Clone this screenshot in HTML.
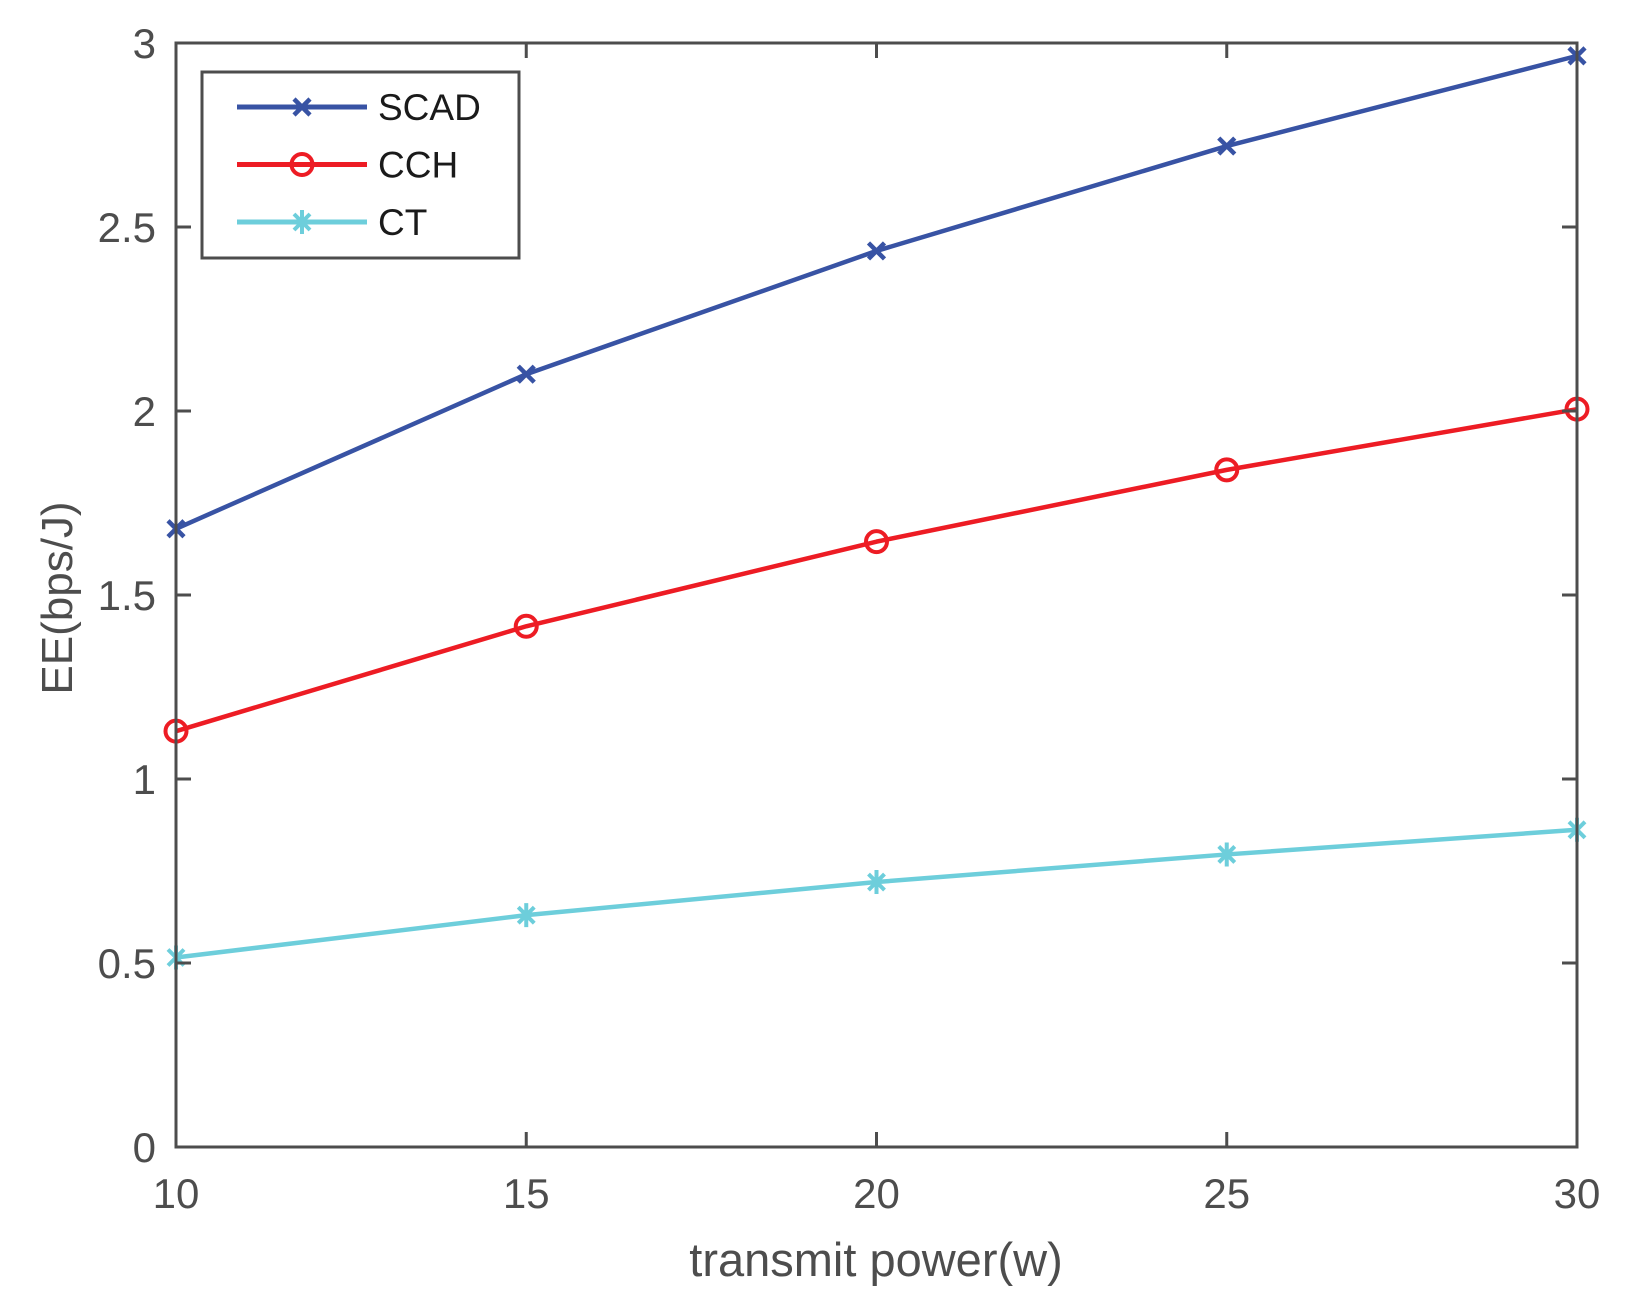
<!DOCTYPE html>
<html><head><meta charset="utf-8"><style>
html,body{margin:0;padding:0;background:#fff;}
svg{display:block;font-family:"Liberation Sans",Arial,sans-serif;}
</style></head><body>
<svg id="chart" width="1629" height="1310" viewBox="0 0 1629 1310">
<rect width="1629" height="1310" fill="#fff"/>
<g id="marks"></g>
<g id="axes"></g>
</svg>
<script>
const categories = [10, 15, 20, 25, 30];
const scadValues = [1.68, 2.10, 2.435, 2.72, 2.965];
const cchValues = [1.13, 1.415, 1.645, 1.84, 2.005];
const ctValues = [0.515, 0.63, 0.72, 0.795, 0.862];
const xTicks = [10, 15, 20, 25, 30];
const yTicks = [0, 0.5, 1, 1.5, 2, 2.5, 3];
const yTickLabels = ["0", "0.5", "1", "1.5", "2", "2.5", "3"];
const seriesNames = ["SCAD", "CCH", "CT"];

const L = 176, R = 1577, T = 43, B = 1147;
const xS = v => L + (v - 10) / 20 * (R - L);
const yS = v => B - v / 3 * (B - T);
const NS = "http://www.w3.org/2000/svg";
const marks = document.getElementById('marks');
const axes = document.getElementById('axes');
function mk(tag, attrs, parent) {
  const e = document.createElementNS(NS, tag);
  for (const k in attrs) e.setAttribute(k, attrs[k]);
  parent.appendChild(e);
  return e;
}
const colors = ["#3853a4", "#ed1c24", "#6dcedb"];
const AX = "#4d4d4d";

function marker(type, x, y, color, parent) {
  const g = mk('g', {}, parent);
  if (type === 0) {
    mk('path', {d: `M${x-8},${y-8}L${x+8},${y+8}M${x-8},${y+8}L${x+8},${y-8}`, stroke: color, 'stroke-width': 4.5, fill: 'none'}, g);
  } else if (type === 1) {
    mk('circle', {cx: x, cy: y, r: 10.5, stroke: color, 'stroke-width': 4, fill: 'none'}, g);
  } else {
    mk('path', {d: `M${x-8},${y-8}L${x+8},${y+8}M${x-8},${y+8}L${x+8},${y-8}M${x},${y-12}L${x},${y+12}`, stroke: color, 'stroke-width': 4, fill: 'none'}, g);
  }
  return g;
}

const box = mk('rect', {x: L, y: T, width: R - L, height: B - T, fill: 'none', stroke: AX, 'stroke-width': 3}, axes);


xTicks.forEach(v => {
  const x = xS(v);
  mk('path', {d: `M${x},${B}L${x},${B-15}M${x},${T}L${x},${T+15}`, stroke: AX, 'stroke-width': 3}, axes);
  const t = mk('text', {x: x, y: 1208, 'font-size': 42, fill: AX, 'text-anchor': 'middle'}, axes);
  t.textContent = v;
  
  
});
yTicks.forEach((v, i) => {
  const y = yS(v);
  mk('path', {d: `M${L},${y}L${L+15},${y}M${R},${y}L${R-15},${y}`, stroke: AX, 'stroke-width': 3}, axes);
  const t = mk('text', {x: 156, y: y + 15, 'font-size': 42, fill: AX, 'text-anchor': 'end'}, axes);
  t.textContent = yTickLabels[i];
  
  
});
const xt = mk('text', {x: 876, y: 1276, 'font-size': 47, fill: AX, 'text-anchor': 'middle'}, axes);
xt.textContent = 'transmit power(w)';


const yt = mk('text', {x: 0, y: 0, 'font-size': 44, fill: AX, 'text-anchor': 'middle', transform: 'translate(72,598) rotate(-90)'}, axes);
yt.textContent = 'EE(bps/J)';



[scadValues, cchValues, ctValues].forEach((vals, si) => {
  const pts = vals.map((v, i) => `${xS(categories[i])},${yS(v)}`).join(' ');
  const pl = mk('polyline', {points: pts, fill: 'none', stroke: colors[si], 'stroke-width': 4.5, 'stroke-linejoin': 'round'}, marks);
  
  
  vals.forEach((v, i) => {
    const m = marker(si, xS(categories[i]), yS(v), colors[si], marks);
    
    
  });
});

const lg = mk('g', {}, axes);


mk('rect', {x: 202, y: 72, width: 317, height: 186, fill: '#fff', stroke: AX, 'stroke-width': 3}, lg);
seriesNames.forEach((n, i) => {
  const y = 107 + i * 57.5;
  const e = mk('g', {}, lg);
  
  
  mk('line', {x1: 237, y1: y, x2: 367, y2: y, stroke: colors[i], 'stroke-width': 5}, e);
  marker(i, 302, y, colors[i], e);
  const t = mk('text', {x: 378, y: y + 13, 'font-size': 37, fill: '#1a1a1a'}, e);
  t.textContent = n;
});
</script>
</body></html>
